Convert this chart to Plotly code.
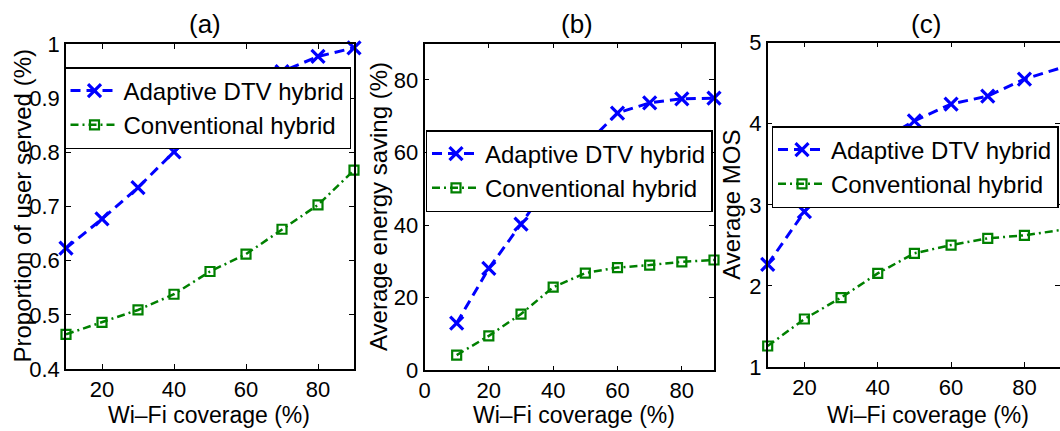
import plotly.graph_objects as go

coverage = [10, 20, 30, 40, 50, 60, 70, 80, 90]

a_adaptive = [0.623, 0.677, 0.735, 0.801, 0.860, 0.910, 0.949, 0.977, 0.993]
a_conventional = [0.464, 0.486, 0.509, 0.538, 0.580, 0.612, 0.658, 0.703, 0.767]

b_adaptive = [13.0, 28.1, 40.3, 53.0, 62.0, 70.9, 73.7, 74.8, 75.0]
b_conventional = [4.2, 9.5, 15.5, 22.9, 26.8, 28.3, 29.0, 29.9, 30.4]

c_adaptive = [2.266, 2.915, 3.45, 3.77, 4.037, 4.243, 4.342, 4.551, 4.69]
c_conventional = [1.259, 1.592, 1.855, 2.155, 2.402, 2.504, 2.587, 2.624, 2.69]

a_yticks = [0.4, 0.5, 0.6, 0.7, 0.8, 0.9, 1.0]
a_yticklabels = ["0.4", "0.5", "0.6", "0.7", "0.8", "0.9", "1"]
b_yticks = [0, 20, 40, 60, 80]
c_yticks = [1, 2, 3, 4, 5]
a_xticks = [20, 40, 60, 80]
b_xticks = [0, 20, 40, 60, 80]
c_xticks = [20, 40, 60, 80]

names = ["Adaptive DTV hybrid", "Conventional hybrid"]
titles = ["(a)", "(b)", "(c)"]
ytitles = ["Proportion of user served (%)", "Average energy saving (%)", "Average MOS"]
xtitle = "Wi\u2013Fi coverage (%)"

W, H = 1060, 431
FONT = "Liberation Sans, Arial, Helvetica, sans-serif"
BLUE = "#0000FF"
GREEN = "#008000"


def px_x(p):
    return p / W


def px_y(p):
    return (H - p) / H


fig = go.Figure()

panels = [
    dict(ad=a_adaptive, cv=a_conventional, xd=(66, 354), yd=(44, 369),
         xr=[10, 90], xt=a_xticks, yr=[0.4, 1.0], yt=a_yticks, ytl=a_yticklabels,
         leg=(64, 67), tx=205, ytx=22, xtx=209),
    dict(ad=b_adaptive, cv=b_conventional, xd=(424.5, 714), yd=(43.7, 370.3),
         xr=[0, 90], xt=b_xticks, yr=[0, 90], yt=b_yticks, ytl=[str(v) for v in b_yticks],
         leg=(425.5, 130), tx=577, ytx=378, xtx=574),
    dict(ad=c_adaptive, cv=c_conventional, xd=(767.7, 1060), yd=(42.7, 367),
         xr=[10, 89.7], xt=c_xticks, yr=[1, 5], yt=c_yticks, ytl=[str(v) for v in c_yticks],
         leg=(771.5, 126), tx=926, ytx=732, xtx=928),
]

annotations = []
for i, p in enumerate(panels):
    n = "" if i == 0 else str(i + 1)
    xa = "x" + n
    ya = "y" + n
    lg = "legend" + n
    fig.add_trace(go.Scatter(
        x=coverage, y=p["ad"], name=names[0], xaxis=xa, yaxis=ya, legend=lg,
        mode="lines+markers", cliponaxis=False,
        line=dict(color=BLUE, width=3, dash="10px,6px"),
        marker=dict(symbol="x-thin", size=13, line=dict(color=BLUE, width=3.2), color=BLUE),
    ))
    fig.add_trace(go.Scatter(
        x=coverage, y=p["cv"], name=names[1], xaxis=xa, yaxis=ya, legend=lg,
        mode="lines+markers", cliponaxis=False,
        line=dict(color=GREEN, width=2.5, dash="8px,4px,2px,4px"),
        marker=dict(symbol="square-open", size=9, line=dict(color=GREEN, width=2.2), color=GREEN),
    ))
    axcommon = dict(showline=True, linecolor="black", linewidth=1.5, mirror="ticks",
                    ticks="inside", ticklen=5, tickcolor="black", tickwidth=1,
                    showgrid=False, zeroline=False, automargin=False,
                    tickfont=dict(family=FONT, size=22, color="black"))
    fig.update_layout({
        "xaxis" + n: dict(domain=[px_x(p["xd"][0]), px_x(p["xd"][1])], range=p["xr"],
                          tickmode="array", tickvals=p["xt"], ticktext=[str(v) for v in p["xt"]],
                          anchor=ya, **axcommon),
        "yaxis" + n: dict(domain=[px_y(p["yd"][1]), px_y(p["yd"][0])], range=p["yr"],
                          tickmode="array", tickvals=p["yt"], ticktext=p["ytl"], anchor=xa,
                          **axcommon),
        lg: dict(x=px_x(p["leg"][0]), y=px_y(p["leg"][1]), xanchor="left", yanchor="top",
                 xref="paper", yref="paper",
                 bgcolor="white", bordercolor="black", borderwidth=1.5,
                 font=dict(family=FONT, size=24, color="black"),
                 itemwidth=48, tracegroupgap=0),
    })
    annotations.append(dict(text=titles[i], x=px_x(p["tx"]), y=px_y(24), xref="paper", yref="paper",
                            showarrow=False, xanchor="center", yanchor="middle",
                            font=dict(family=FONT, size=26, color="black")))
    annotations.append(dict(text=ytitles[i], x=px_x(p["ytx"]), y=px_y((p["yd"][0] + p["yd"][1]) / 2),
                            xref="paper", yref="paper", textangle=-90,
                            showarrow=False, xanchor="center", yanchor="middle",
                            font=dict(family=FONT, size=24, color="black")))
    annotations.append(dict(text=xtitle, x=px_x(p["xtx"]), y=px_y(415), xref="paper", yref="paper",
                            showarrow=False, xanchor="center", yanchor="middle",
                            font=dict(family=FONT, size=23, color="black")))

fig.update_layout(
    width=W, height=H, margin=dict(l=0, r=0, t=0, b=0, pad=0, autoexpand=False),
    paper_bgcolor="white", plot_bgcolor="white",
    showlegend=True, annotations=annotations,
    font=dict(family=FONT, color="black"),
)

fig.write_html(
    "out.html",
    config={"displayModeBar": False},
    post_script="document.body.style.margin='0px';document.body.style.padding='0px';"
                "document.documentElement.style.overflow='hidden';",
)
